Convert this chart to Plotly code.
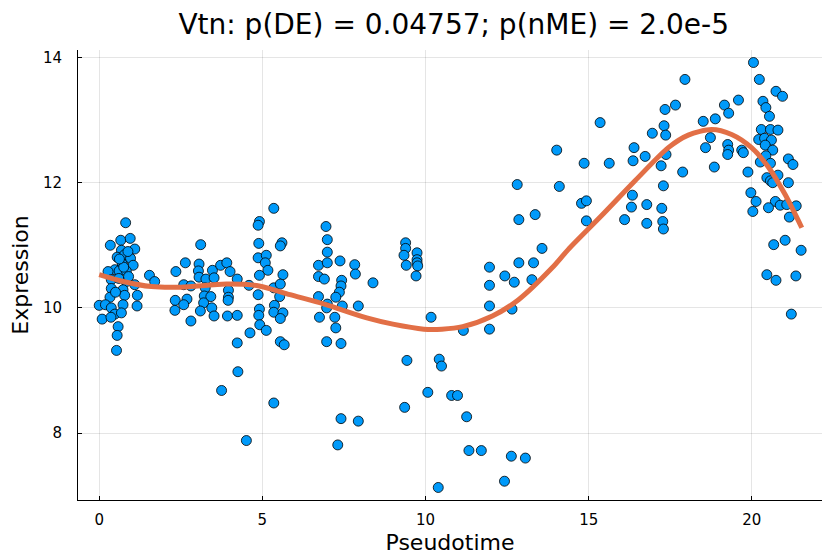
import plotly.graph_objects as go

# pseudotime / expression of each cell
pseudotime = [
    0.81, 0.34, 0.66, 0.95, 1.09, 0.68, 0.55, 0.78, 0.96, 1.04, 0.71, 0.48, 0.27, 0.61, 0.83,
    1.54, 1.70, 0.37, 0.83, 1.09, 0.37, 0.73, 1.17, 0.33, 0.78, 1.16, 0.0, 0.19, 0.37, 0.73,
    0.48, 0.68, 0.09, 0.36, 0.58, 0.55, 0.53, 2.35, 2.33, 2.32, 0.75, 0.88, 0.6, 0.9, 0.5, 0.62,
    3.11, 2.64, 3.06, 3.04, 3.47, 3.72, 3.91, 4.01, 3.06, 3.27, 3.52, 4.23, 2.59, 2.81, 3.25,
    3.96, 4.59, 3.22, 3.42, 3.96, 2.69, 3.95, 2.59, 3.20, 3.10, 3.45, 3.52, 3.93, 4.23, 2.81,
    4.23, 4.25, 3.75, 4.51,
    5.35, 4.91, 4.87, 4.89, 5.60, 5.55, 4.87, 5.12, 5.09, 5.17, 4.91, 5.63, 4.87, 5.35, 5.55,
    5.53, 4.91, 5.37, 5.35, 4.89, 5.63, 5.55, 4.92, 5.12, 4.62, 5.55, 5.67, 5.35,
    6.95, 6.99, 6.99, 6.72, 6.99, 7.38, 7.83, 7.85, 6.72, 6.90, 7.43, 7.41, 7.36, 6.72, 7.25,
    6.99, 7.45, 7.94, 6.97, 6.75, 7.22, 7.25, 6.97, 7.41, 7.41, 7.94, 7.31, 8.39,
    9.39, 9.39, 9.34, 9.41, 9.74, 9.74, 9.74, 9.76, 9.71, 10.17, 11.16, 11.96, 11.96, 11.96,
    11.96, 12.43, 12.72, 12.65, 13.26, 12.86, 13.31, 13.57, 12.81, 12.86, 13.36, 14.02, 14.10,
    9.43, 9.36, 10.42, 10.49, 10.07, 10.80, 10.98, 11.26, 11.33, 11.71, 12.63, 13.06, 12.42, 10.39,
    14.86, 14.78, 14.93, 14.93, 15.35, 15.63, 16.10, 16.31, 16.34, 16.36, 16.39,
    16.73, 16.78, 16.78, 16.95, 17.31, 17.36, 17.34, 17.66, 17.95, 17.37, 17.22, 17.29, 17.24,
    17.27, 17.29, 17.88, 18.51, 18.58,
    18.88, 19.16, 19.29, 19.59, 18.73, 18.85, 19.26, 19.29, 19.26, 19.69, 19.74, 19.88, 19.97,
    20.13, 20.03, 20.05,
    20.23, 20.34, 20.43, 20.54, 20.74, 20.94, 20.29, 20.57, 20.80, 20.21, 20.39, 20.60, 20.41,
    20.64, 20.43, 20.26, 20.57, 21.12, 21.26, 20.46, 20.57, 20.80, 20.64, 21.12, 20.72, 20.87,
    20.51, 21.07, 21.36, 21.15, 20.67, 21.02, 21.51, 20.46, 20.74, 21.35, 21.21,
]
expression = [
    11.36, 11.0, 11.08, 11.11, 10.94, 10.92, 10.81, 10.85, 10.79, 10.68, 10.70, 10.61, 10.58, 10.59, 10.59,
    10.52, 10.42, 10.45, 10.42, 10.37, 10.31, 10.29, 10.20, 10.17, 10.20, 10.03, 10.04, 10.05, 10.0, 10.05,
    9.90, 9.92, 9.82, 9.85, 9.70, 9.56, 9.32, 10.58, 10.12, 9.96, 10.65, 10.9, 10.47, 10.5, 10.25, 10.78,
    11.01, 10.72, 10.70, 10.59, 10.60, 10.68, 10.72, 10.58, 10.49, 10.46, 10.48, 10.46, 10.37, 10.35, 10.32,
    10.28, 10.36, 10.19, 10.18, 10.17, 10.14, 10.12, 10.05, 10.08, 9.95, 10.0, 9.87, 9.87, 9.88, 9.79,
    9.44, 8.98, 8.68, 7.88,
    11.59, 11.38, 11.32, 11.03, 11.04, 10.99, 10.80, 10.84, 10.72, 10.60, 10.52, 10.53, 10.21, 10.32, 10.38,
    10.18, 9.98, 10.04, 9.93, 9.88, 9.92, 9.83, 9.73, 9.64, 9.60, 9.46, 9.41, 8.48,
    11.30, 11.09, 10.89, 10.68, 10.72, 10.75, 10.69, 10.54, 10.50, 10.46, 10.44, 10.35, 10.25, 10.18, 10.17,
    10.06, 10.03, 10.03, 10.0, 9.85, 9.85, 9.68, 9.46, 9.43, 8.23, 8.19, 7.81, 10.40,
    11.04, 10.95, 10.84, 10.68, 10.88, 10.77, 10.72, 10.67, 10.51, 9.85, 9.64, 9.66, 10.03, 10.36,
    10.65, 10.51, 10.41, 9.98, 10.45, 10.72, 10.72, 10.95, 11.97, 11.41, 11.49, 12.52, 11.94,
    9.16, 8.41, 9.18, 9.07, 8.65, 8.60, 8.60, 8.26, 7.72, 7.72, 7.63, 7.60, 7.23, 7.13,
    12.31, 11.67, 11.71, 11.39, 12.96, 12.31, 11.41, 11.61, 11.80, 12.35, 12.56,
    12.42, 11.65, 11.35, 12.79, 12.91, 12.76, 13.17, 13.24, 13.65, 12.45, 12.27, 11.95, 11.59,
    11.38, 11.26, 12.17, 12.98, 12.56,
    13.02, 13.24, 13.11, 13.32, 12.72, 12.25, 12.61, 12.52, 12.45, 12.52, 12.48, 12.17, 11.84,
    11.70, 11.54, 13.92,
    13.65, 13.30, 13.20, 13.06, 13.46, 13.38, 12.85, 12.85, 12.84, 12.69, 12.71, 12.68, 12.60,
    12.52, 12.43, 12.33, 12.31, 12.38, 12.29, 12.08, 12.03, 12.12, 12.0, 12.0, 11.70, 11.64,
    11.60, 11.65, 11.63, 11.45, 11.01, 11.08, 10.92, 10.53, 10.44, 10.51, 9.90,
]

# fitted smooth curve
fit_x = [0.0, 0.67, 1.6, 2.5, 3.9, 4.9, 5.85, 6.9, 8.2, 9.0, 9.95, 10.5, 11.14, 12.05, 12.85,
         13.88, 14.37, 15.39, 16.42, 17.44, 18.05, 18.77, 19.38, 19.99, 20.52, 21.02, 21.53]
fit_y = [10.53, 10.43, 10.34, 10.33, 10.38, 10.35, 10.21, 10.06, 9.84, 9.74, 9.66, 9.66, 9.70, 9.87, 10.13,
         10.64, 10.93, 11.47, 12.03, 12.56, 12.76, 12.85, 12.77, 12.56, 12.24, 11.81, 11.28]

x_ticks = [0, 5, 10, 15, 20]
y_ticks = [8, 10, 12, 14]

fig = go.Figure()
fig.add_trace(go.Scatter(
    x=pseudotime, y=expression, mode="markers",
    marker=dict(color="#009AFA", size=10, line=dict(color="black", width=0.8)),
    showlegend=False,
))
fig.add_trace(go.Scatter(
    x=fit_x, y=fit_y, mode="lines",
    line=dict(color="#E26F46", width=5, shape="spline", smoothing=0.8),
    showlegend=False,
))

font = "DejaVu Sans"
axis_common = dict(
    showgrid=True, gridcolor="rgba(0,0,0,0.1)", gridwidth=0.5,
    zeroline=False, showline=True, linecolor="black", linewidth=1,
    ticks="inside", ticklen=4, tickcolor="black",
    tickfont=dict(family=font, size=15, color="black"),
    mirror=False, automargin=False,
)
fig.update_xaxes(axis_common, range=[-0.65, 22.15], tickvals=x_ticks, ticklabelstandoff=6,
                 title=dict(text="Pseudotime", font=dict(family=font, size=22, color="black"), standoff=6))
fig.update_yaxes(axis_common, range=[6.93, 14.12], tickvals=y_ticks, ticklabelstandoff=12,
                 title=dict(text="Expression", font=dict(family=font, size=22, color="black"), standoff=8))

fig.update_layout(
    width=830, height=554,
    margin=dict(l=70, r=16, t=42, b=62),
    plot_bgcolor="white", paper_bgcolor="white",
    title=dict(text="Vtn: p(DE) = 0.04757; p(nME) = 2.0e-5",
               font=dict(family=font, size=28, color="black"),
               x=0.537, xanchor="center", y=0.97, yanchor="middle", yref="container"),
)

fig.write_html("out.html")
